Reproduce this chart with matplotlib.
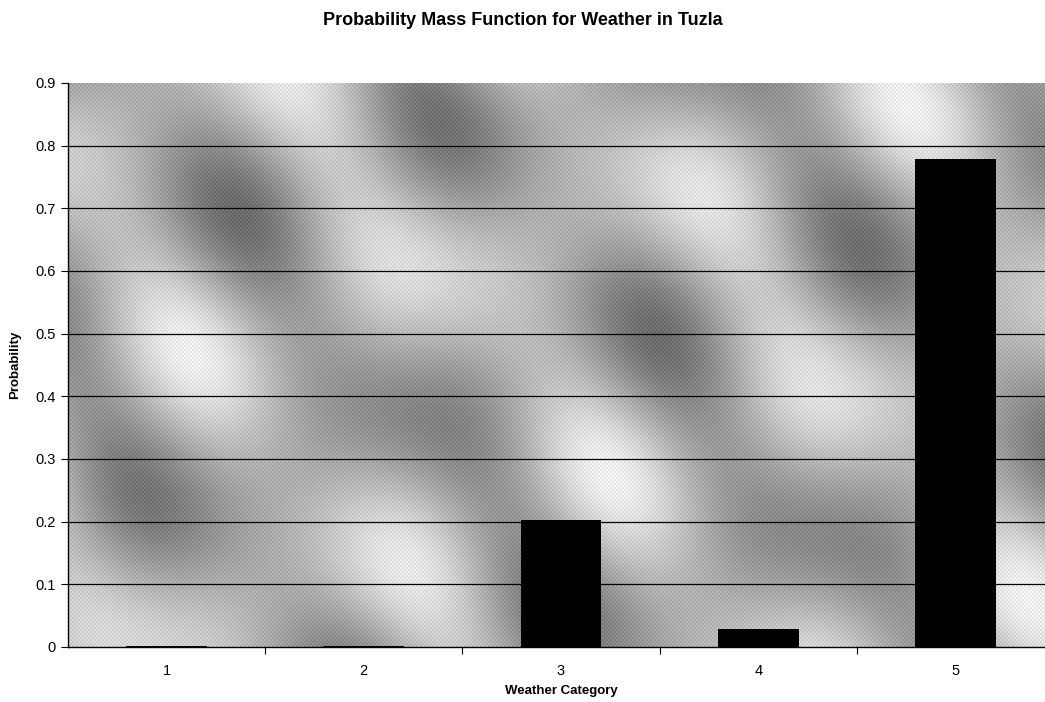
import numpy as np
import matplotlib.pyplot as plt

# ----------------------------
# Data
# ----------------------------
categories = [1, 2, 3, 4, 5]
probabilities = [0.002, 0.002, 0.202, 0.029, 0.779]
y_ticks = [0, 0.1, 0.2, 0.3, 0.4, 0.5, 0.6, 0.7, 0.8, 0.9]
y_tick_labels = ["0", "0.1", "0.2", "0.3", "0.4", "0.5", "0.6", "0.7", "0.8", "0.9"]

plt.rcParams["font.family"] = ["Liberation Sans", "DejaVu Sans"]

fig = plt.figure(figsize=(10.45, 7.02), dpi=100)
ax = fig.add_axes([68 / 1045, 55 / 702, 986 / 1045, 564 / 702])

# ----------------------------
# Textured (Excel-like) background
# ----------------------------
ny, nx = 282, 493
yy, xx = np.mgrid[0:ny, 0:nx]
u = xx / nx
v = yy / ny
tex = (0.55 * np.sin(2 * np.pi * (3.2 * u + 1.6 * v))
       + 0.35 * np.sin(2 * np.pi * (1.3 * u - 2.1 * v) + 1.0)
       + 0.25 * np.sin(2 * np.pi * (5.0 * u + 0.7 * v) + 2.0))
tex = (tex - tex.min()) / (tex.max() - tex.min())
shade = 0.42 + 0.52 * tex
checker = ((xx + yy) % 2) * 0.08 - 0.04
shade = np.clip(shade + checker, 0, 1)
ax.imshow(shade, cmap="gray", vmin=0, vmax=1, aspect="auto",
          extent=(0.5, 5.5, 0, 0.9), origin="lower", zorder=0,
          interpolation="nearest")

# grid lines (none on the top edge)
for yv in y_ticks[1:-1]:
    ax.axhline(yv, color="black", lw=0.9, zorder=1)

ax.bar(categories, probabilities, width=0.41, color="black", zorder=2)

ax.set_xlim(0.5, 5.5)
ax.set_ylim(0, 0.9)

ax.set_yticks(y_ticks)
ax.set_yticklabels(y_tick_labels, fontsize=10.5)
ax.set_xticks(categories)
ax.set_xticklabels([str(c) for c in categories], fontsize=10.5)
ax.set_xticks([1.5, 2.5, 3.5, 4.5], minor=True)
ax.tick_params(axis="x", which="major", length=0, pad=12)
ax.tick_params(axis="x", which="minor", length=5, width=0.8)
ax.tick_params(axis="y", length=5, width=0.8, pad=4)

for side in ["top", "right"]:
    ax.spines[side].set_visible(False)
ax.spines["left"].set_linewidth(1.0)
ax.spines["bottom"].set_linewidth(1.0)

ax.set_xlabel("Weather Category", fontsize=9.5, fontweight="bold", labelpad=5)
ax.set_ylabel("Probability", fontsize=9.5, fontweight="bold", labelpad=10)
fig.suptitle("Probability Mass Function for Weather in Tuzla",
             fontsize=13, fontweight="bold", y=0.983)

fig.savefig("out.png", dpi=100)
